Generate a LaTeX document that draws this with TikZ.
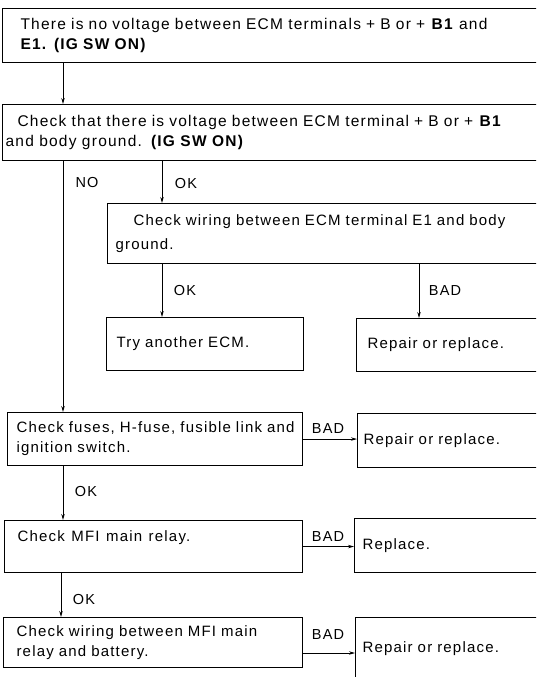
\documentclass[tikz,border=0pt]{standalone}
\usepackage{fontspec}
\setmainfont{Liberation Sans}[LetterSpace=8]
\usetikzlibrary{arrows.meta}
% set the interword space for the rest of the current group
\newcommand{\wordgap}[1]{\spaceskip=#1\relax}
\tikzset{
  box/.style={draw, line width=1.1pt, rectangle, anchor=north west, align=left,
              inner ysep=0pt, font=\fontsize{15}{20}\selectfont},
  bigbox/.style={box, font=\fontsize{15.5}{20}\selectfont\wordgap{7pt}},
  lbl/.style={font=\fontsize{14.5}{16}\selectfont, inner sep=0pt},
  arr/.style={line width=0.8pt, -{Stealth[length=6pt,width=3.4pt]}}
}
\begin{document}
\begin{tikzpicture}[x=1pt,y=-1pt]
\useasboundingbox (0,0) rectangle (536,677);
\clip (0,0) rectangle (536,677);
\fill[white] (0,0) rectangle (536,677);

% column positions of the vertical connectors
\coordinate (cl) at (63,0);
\coordinate (cm) at (162,0);
\coordinate (cr) at (419,0);
\coordinate (cb) at (61,0);
\coordinate (yw) at (0,653);

% main chain of checks
\node[bigbox, inner xsep=18pt, text width=507pt, minimum width=543pt, minimum height=54pt] (b1) at (2,8)
  {There is no voltage between ECM terminals + B or + \textbf{B1} and\\\textbf{E1. (IG SW ON)}};
\node[bigbox, inner xsep=3pt, text width=537pt, minimum width=543pt, minimum height=56pt] (b2) at (2,104)
  {\hspace*{12pt}Check that there is voltage between ECM terminal + B or + \textbf{B1}\\{\wordgap{5.4pt}and body ground. \textbf{(IG SW ON)}}};
\node[box, inner xsep=8pt, text width=422pt, minimum width=438pt, minimum height=60pt,
      font=\fontsize{15}{24}\selectfont] (b3) at (107,203)
  {\hspace*{18pt}Check wiring between ECM terminal E1 and body\\ground.};
\node[box, inner xsep=10pt, text width=177pt, minimum width=197pt, minimum height=53pt] (try) at (106,317)
  {Try another ECM.};
\node[box, inner xsep=11pt, text width=167pt, minimum width=189pt, minimum height=53pt] (rep1) at (356,318)
  {Repair or replace.};
\node[box, inner xsep=9pt, text width=277pt, minimum width=295pt, minimum height=53pt] (fuse) at (7,412)
  {Check fuses, H-fuse, fusible link and\\ignition switch.};
\node[box, inner xsep=6pt, text width=176pt, minimum width=188pt, minimum height=54pt] (rep2) at (357,413)
  {Repair or replace.};
\node[box, inner xsep=13pt, text width=272pt, minimum width=298pt, minimum height=52pt] (mfi) at (4,520)
  {{\wordgap{6.5pt}Check MFI main relay.}\\\mbox{}};
\node[box, inner xsep=8pt, text width=175pt, minimum width=191pt, minimum height=54pt] (repl) at (354,518)
  {Replace.};
\node[box, inner xsep=13pt, text width=273pt, minimum width=299pt, minimum height=50pt] (wbat) at (3,617)
  {Check wiring between MFI main\\relay and battery.};
\node[box, inner xsep=7pt, text width=176pt, minimum width=190pt, minimum height=62pt] (rep3) at (355,617)
  {Repair or replace.};

% connectors
\draw[arr] (b1.south -| cl) -- (b2.north -| cl);
\draw[arr] (b2.south -| cl) -- (fuse.north -| cl);
\draw[arr] (b2.south -| cm) -- (b3.north -| cm);
\draw[arr] (b3.south -| cm) -- (try.north -| cm);
\draw[arr] (b3.south -| cr) -- (rep1.north -| cr);
\draw[arr] (fuse.east) -- (fuse.east -| rep2.west);
\draw[arr] (fuse.south -| cl) -- (mfi.north -| cl);
\draw[arr] (mfi.east) -- (mfi.east -| repl.west);
\draw[arr] (mfi.south -| cb) -- (wbat.north -| cb);
\draw[arr] (wbat.east |- yw) -- (rep3.west |- yw);

% branch labels
\node[lbl] (lno) at (87,183) {NO};
\node[lbl] (lok1) at (186,184) {OK};
\node[lbl] (lok2) at (185,291) {OK};
\node[lbl] (lbad1) at (445,291) {BAD};
\node[lbl] (lbad2) at (328,429) {BAD};
\node[lbl] (lok3) at (86,492) {OK};
\node[lbl] (lbad3) at (328,537) {BAD};
\node[lbl] (lok4) at (84,600) {OK};
\node[lbl] (lbad4) at (328,635) {BAD};
\end{tikzpicture}
\end{document}
